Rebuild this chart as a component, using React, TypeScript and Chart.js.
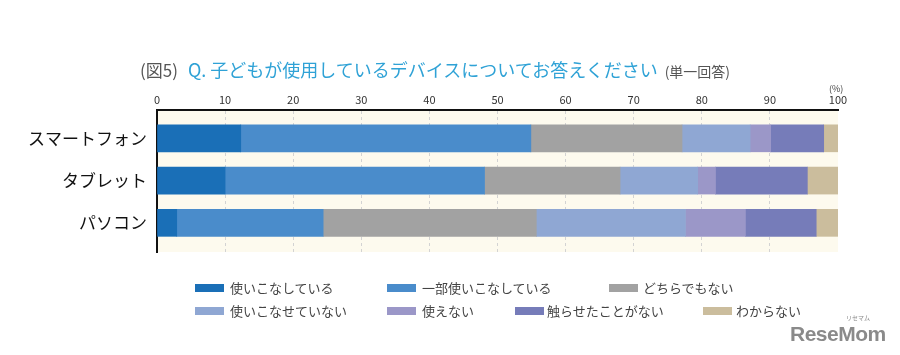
import React, { useEffect, useRef } from 'react';
import { Chart, registerables } from 'chart.js';

Chart.register(...registerables);

const categories = ['スマートフォン', 'タブレット', 'パソコン'];

const seriesLabels = [
  '使いこなしている',
  '一部使いこなしている',
  'どちらでもない',
  '使いこなせていない',
  '使えない',
  '触らせたことがない',
  'わからない',
];

const useFully = [12.3, 10.0, 2.9];
const usePartly = [42.6, 38.1, 21.5];
const neither = [22.2, 19.9, 31.3];
const cannotMaster = [10.0, 11.4, 21.9];
const cannotUse = [3.0, 2.6, 8.8];
const neverTouched = [7.8, 13.5, 10.4];
const dontKnow = [2.1, 4.5, 3.2];

const seriesValues = [useFully, usePartly, neither, cannotMaster, cannotUse, neverTouched, dontKnow];

const seriesColors = ['#1a6fb7', '#4a8ccb', '#a2a2a2', '#8fa7d3', '#9b97c8', '#767cb9', '#cbbd9d'];

const FONT = "'Noto Sans CJK JP', 'Noto Sans', sans-serif";

// legend layout: [boxLeft, textLeft, centerY]
const legendLayout = [
  [195, 230, 288],
  [387, 422, 288],
  [609, 643, 288],
  [195, 230, 310.5],
  [387, 422, 310.5],
  [515, 547, 310.5],
  [703, 736, 310.5],
];

const bgPlugin = {
  id: 'creamBg',
  beforeDraw(chart: any) {
    const { ctx, chartArea } = chart;
    ctx.save();
    ctx.fillStyle = '#fdfaee';
    ctx.fillRect(chartArea.left, chartArea.top, chartArea.right - chartArea.left, chartArea.bottom - chartArea.top);
    ctx.restore();
  },
};

export default function App() {
  const ref = useRef<HTMLCanvasElement | null>(null);

  useEffect(() => {
    if (!ref.current) return;
    const chart = new Chart(ref.current, {
      type: 'bar',
      data: {
        labels: categories,
        datasets: seriesValues.map((d, i) => ({
          label: seriesLabels[i],
          data: d,
          backgroundColor: seriesColors[i],
          borderWidth: 0,
          barThickness: 27,
        })),
      },
      options: {
        indexAxis: 'y',
        animation: false,
        responsive: false,
        maintainAspectRatio: false,
        layout: { padding: { left: 0, right: 62, top: 80, bottom: 103 } },
        plugins: { legend: { display: false }, tooltip: { enabled: false } },
        scales: {
          x: {
            position: 'top',
            stacked: true,
            min: 0,
            max: 100,
            afterFit: (s: any) => {
              s.height = 30;
            },
            ticks: { stepSize: 10, padding: 4, color: '#333', font: { size: 11, family: FONT } },
            grid: {
              drawTicks: false,
              color: (ctx: any) => (ctx.index === 0 || ctx.index === 10 ? 'rgba(0,0,0,0)' : '#d3d3d3'),
              lineWidth: 1,
            },
            border: { display: true, color: '#111', width: 2, dash: [3, 3] },
          },
          y: {
            stacked: true,
            afterFit: (s: any) => {
              s.width = 157;
            },
            afterBuildTicks: (s: any) => {
              s._startValue = -0.67;
              s._valueRange = 3.36;
            },
            grid: { display: false, drawTicks: false },
            border: { display: true, color: '#111', width: 2 },
            ticks: { color: '#111', padding: 10, font: { size: 17, family: FONT } },
          },
        },
      },
      plugins: [bgPlugin],
    } as any);
    return () => chart.destroy();
  }, []);

  return (
    <div
      style={{
        position: 'fixed',
        left: 0,
        top: 0,
        width: 900,
        height: 355,
        background: '#ffffff',
        overflow: 'hidden',
        fontFamily: FONT,
      }}
    >
      <canvas ref={ref} width={900} height={355} style={{ position: 'absolute', left: 0, top: 0 }} />
      <div
        style={{
          position: 'absolute',
          left: 140,
          top: 57,
          lineHeight: '24px',
          whiteSpace: 'nowrap',
        }}
      >
        <span style={{ fontSize: 17, color: '#555' }}>(図5)</span>
        <span style={{ fontSize: 18, color: '#2fa2d6', marginLeft: 10 }}>
          Q. 子どもが使用しているデバイスについてお答えください
        </span>
        <span style={{ fontSize: 14, color: '#555', marginLeft: 7 }}>(単一回答)</span>
      </div>
      <div
        style={{
          position: 'absolute',
          left: 829,
          top: 83,
          fontSize: 9,
          lineHeight: '12px',
          color: '#444',
        }}
      >
        (%)
      </div>
      {seriesLabels.map((lab, i) => {
        const [bx, tx, cy] = legendLayout[i];
        return (
          <React.Fragment key={lab}>
            <div
              style={{
                position: 'absolute',
                left: bx,
                top: cy - 4,
                width: 29,
                height: 8,
                background: seriesColors[i],
              }}
            />
            <div
              style={{
                position: 'absolute',
                left: tx,
                top: cy - 10,
                fontSize: 13,
                lineHeight: '20px',
                color: '#444',
                whiteSpace: 'nowrap',
              }}
            >
              {lab}
            </div>
          </React.Fragment>
        );
      })}
      <div
        style={{
          position: 'absolute',
          left: 846,
          top: 314,
          fontSize: 6,
          lineHeight: '8px',
          color: '#888',
        }}
      >
        リセマム
      </div>
      <div
        style={{
          position: 'absolute',
          left: 790,
          top: 322,
          fontSize: 21,
          lineHeight: '24px',
          fontWeight: 'bold',
          color: '#8a8a8a',
          fontFamily: "'Liberation Sans', Arial, sans-serif",
          letterSpacing: '-0.5px',
        }}
      >
        ReseMom
      </div>
    </div>
  );
}
